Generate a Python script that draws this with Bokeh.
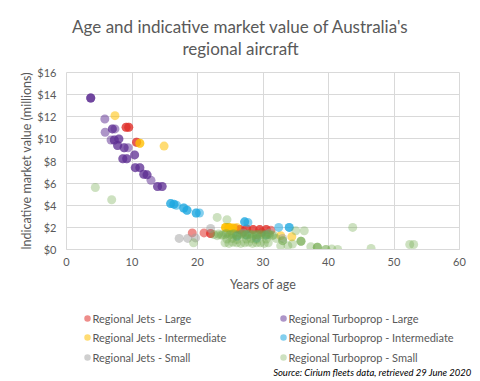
from bokeh.plotting import figure
from bokeh.layouts import column
from bokeh.models import Range1d, FixedTicker
from bokeh.core.properties import value
from bokeh.embed import file_html
from bokeh.resources import INLINE

# ---------------- data ----------------
x_ticks = [0, 10, 20, 30, 40, 50, 60]
y_ticks = [0, 2, 4, 6, 8, 10, 12, 14, 16]
y_tick_labels = {0: "$0", 2: "$2", 4: "$4", 6: "$6", 8: "$8", 10: "$10", 12: "$12", 14: "$14", 16: "$16"}

title_lines = ["Age and indicative market value of Australia's", "regional aircraft"]

series_names = ["Regional Jets - Large", "Regional Turboprop - Large",
                "Regional Jets - Intermediate", "Regional Turboprop - Intermediate",
                "Regional Jets - Small", "Regional Turboprop - Small"]

jl_x = [9.1, 9.1, 9.5, 9.5, 10.7, 10.7, 19.2, 21.0, 22.0, 22.0, 25.8, 26.5, 26.5, 27.5, 27.5, 28.5, 28.5,
        29.5, 29.5, 30.5, 30.5, 31.2, 29.8, 27.0]
jl_y = [11.05, 11.05, 11.05, 11.05, 9.7, 9.7, 1.5, 1.5, 1.45, 1.45, 1.9, 1.8, 1.8, 1.85, 1.85, 1.8, 1.8,
        1.8, 1.8, 1.8, 1.8, 1.75, 1.55, 1.6]

tl_x = [3.7, 3.7, 3.7, 5.85, 5.9, 7.0, 7.0, 7.4, 6.8, 7.3, 7.3, 8.0, 8.0, 7.8, 7.8, 8.8, 8.8, 9.4,
        8.6, 8.6, 9.2, 9.2, 10.4, 10.4, 10.5, 10.5, 11.2, 11.2, 11.8, 11.8, 12.3, 12.3, 12.9,
        13.9, 13.9, 14.6, 14.6]
tl_y = [13.7, 13.7, 13.7, 11.8, 10.6, 10.9, 10.9, 10.9, 9.9, 9.9, 9.9, 10.0, 10.0, 9.4, 9.4, 9.2, 9.2, 9.2,
        8.2, 8.2, 8.2, 8.2, 8.55, 8.55, 7.4, 7.4, 7.4, 7.4, 6.8, 6.8, 6.75, 6.75, 6.25,
        5.7, 5.7, 5.7, 5.7]

ji_x = [7.4, 11.2, 11.2, 14.9, 24.3, 24.3, 24.3, 24.8, 24.8, 24.8, 25.4, 25.4, 26.0, 25.0, 32.7, 34.4]
ji_y = [12.1, 9.6, 9.6, 9.35, 2.0, 2.0, 2.0, 2.0, 2.0, 2.0, 1.95, 1.95, 2.0, 1.7, 1.25, 1.15]

ti_x = [15.9, 15.9, 16.4, 16.4, 16.8, 17.9, 17.9, 18.4, 18.4, 19.8, 19.8, 20.3, 27.2, 27.2, 27.7,
        32.4, 34.0, 34.0, 26.0, 27.5, 29.0, 30.5]
ti_y = [4.15, 4.15, 4.1, 4.1, 4.0, 3.75, 3.75, 3.55, 3.55, 3.3, 3.3, 3.3, 2.5, 2.5, 2.45,
        2.0, 2.0, 2.0, 1.2, 1.3, 1.0, 1.3]

js_x = [17.2, 18.5, 19.7, 22.0, 27.0, 29.0, 31.0, 33.0]
js_y = [1.0, 1.0, 1.05, 1.9, 1.5, 1.2, 1.5, 1.0]

ts_x = [4.4, 6.9, 19.4, 23.0, 24.5,
        22.5, 23.2, 23.8, 24.4, 25.0, 25.6, 26.2, 26.8, 27.4, 28.0, 28.6, 29.2, 29.8, 30.4, 31.0, 31.6,
        23.0, 23.6, 24.2, 24.8, 25.4, 26.0, 26.6, 27.2, 27.8, 28.4, 29.0, 29.6, 30.2, 30.8, 31.4,
        24.2, 24.8, 25.4, 26.0, 26.6, 27.2, 27.8, 28.4, 29.0, 29.6, 30.2, 30.8,
        24.5, 25.3, 26.0, 27.5, 28.2, 29.0, 30.5, 32.0,
        35.8, 35.8, 35.8, 35.0, 36.3, 38.3, 38.3, 38.3, 39.6, 39.6, 40.5, 41.4, 43.7, 46.5,
        52.4, 53.0, 37.3, 32.7, 33.8, 33.0, 33.0, 34.5]
ts_y = [5.6, 4.5, 0.6, 2.9, 2.7,
        1.35, 1.4, 1.3, 1.45, 1.35, 1.4, 1.3, 1.4, 1.35, 1.4, 1.3, 1.35, 1.4, 1.3, 1.35, 1.3,
        1.25, 1.3, 1.35, 1.3, 1.4, 1.3, 1.35, 1.3, 1.4, 1.3, 1.35, 1.3, 1.3, 1.4, 1.25,
        0.6, 0.55, 0.65, 0.6, 0.55, 0.6, 0.65, 0.55, 0.6, 0.6, 0.55, 0.6,
        0.95, 1.0, 0.9, 0.95, 1.0, 0.9, 0.95, 1.0,
        0.75, 0.75, 0.75, 1.7, 1.7, 0.2, 0.2, 0.2, 0.0, 0.0, 0.05, 0.0, 2.0, 0.1,
        0.45, 0.45, 0.25, 0.35, 0.35, 0.8, 0.8, 0.5]

source_text = "Source: Cirium fleets data, retrieved 29 June 2020"

colors = {
    "Regional Jets - Large": "#E0302A",
    "Regional Turboprop - Large": "#5B2C91",
    "Regional Jets - Intermediate": "#FFC000",
    "Regional Turboprop - Intermediate": "#1EA8E0",
    "Regional Jets - Small": "#A0A0A0",
    "Regional Turboprop - Small": "#6FA84A",
}
alphas = {
    "Regional Jets - Large": 0.55,
    "Regional Turboprop - Large": 0.5,
    "Regional Jets - Intermediate": 0.55,
    "Regional Turboprop - Intermediate": 0.55,
    "Regional Jets - Small": 0.5,
    "Regional Turboprop - Small": 0.35,
}
series_data = {
    "Regional Jets - Large": (jl_x, jl_y),
    "Regional Turboprop - Large": (tl_x, tl_y),
    "Regional Jets - Intermediate": (ji_x, ji_y),
    "Regional Turboprop - Intermediate": (ti_x, ti_y),
    "Regional Jets - Small": (js_x, js_y),
    "Regional Turboprop - Small": (ts_x, ts_y),
}

FONT = "Lato"
GRID = "#D9D9D9"
TXT = "#595959"


def strip(h):
    s = figure(frame_width=480, frame_height=h, output_backend="svg", toolbar_location=None,
               title=None, x_range=Range1d(0, 480), y_range=Range1d(h, 0),
               min_border=0, min_border_left=0, min_border_right=0,
               min_border_top=0, min_border_bottom=0)
    s.axis.visible = False
    s.grid.visible = False
    s.outline_line_color = None
    s.frame_align = False
    return s


# ---------------- title strip ----------------
top = strip(62)
top.text([240, 240], [26, 48], text=title_lines, text_font=value(FONT), text_font_size="17px",
         text_color=TXT, text_align="center", text_baseline="middle")

# ---------------- main chart ----------------
p = figure(frame_width=393, frame_height=177, output_backend="svg", toolbar_location=None,
           title=None, x_range=Range1d(0, 60), y_range=Range1d(0, 16),
           min_border_left=66, min_border_right=21, min_border_top=10, min_border_bottom=52)
p.frame_align = False

p.outline_line_color = GRID
p.xgrid.grid_line_color = GRID
p.ygrid.grid_line_color = GRID
p.xaxis.ticker = FixedTicker(ticks=x_ticks)
p.yaxis.ticker = FixedTicker(ticks=y_ticks)
p.yaxis.major_label_overrides = y_tick_labels
for ax in (p.xaxis[0], p.yaxis[0]):
    ax.major_tick_line_color = None
    ax.minor_tick_line_color = None
    ax.major_tick_out = 0
    ax.major_tick_in = 0
    ax.minor_tick_out = 0
    ax.major_label_text_font = FONT
    ax.major_label_text_font_size = "11px"
    ax.major_label_text_color = TXT
    ax.axis_label_text_font = FONT
    ax.axis_label_text_font_size = "12.5px"
    ax.axis_label_text_font_style = "normal"
    ax.axis_label_text_color = TXT
p.xaxis.axis_line_color = GRID
p.yaxis.axis_line_color = None
p.xaxis.major_label_standoff = 8
p.yaxis.major_label_standoff = 10
p.xaxis.axis_label = "Years of age"
p.xaxis.axis_label_standoff = 8
p.yaxis.axis_label = "Indicative market value (millions)"
p.yaxis.axis_label_standoff = 0

for name in series_names:
    xs, ys = series_data[name]
    p.scatter(xs, ys, size=9, fill_color=colors[name], fill_alpha=alphas[name], line_color=None)

# ---------------- legend + source strip ----------------
leg = strip(80)
col_x = [87, 283]
row_y = [17, 36, 56]
dot_x, dot_y, dot_c, dot_a, lab_x, lab_y = [], [], [], [], [], []
for i, name in enumerate(series_names):
    dot_x.append(col_x[i % 2])
    dot_y.append(row_y[i // 2])
    dot_c.append(colors[name])
    dot_a.append(alphas[name])
    lab_x.append(col_x[i % 2] + 5)
    lab_y.append(row_y[i // 2])
leg.scatter(dot_x, dot_y, size=6.5, fill_color=dot_c, fill_alpha=dot_a, line_color=None)
leg.text(lab_x, lab_y, text=series_names, text_font=value(FONT), text_font_size="11px",
         text_color=TXT, text_align="left", text_baseline="middle")
leg.text([471], [71], text=[source_text], text_font=value(FONT), text_font_size="9.5px",
         text_font_style="italic", text_color="#000000", text_align="right", text_baseline="middle")

layout = column(top, p, leg, spacing=0)
open("out.html", "w").write(file_html(layout, INLINE))
